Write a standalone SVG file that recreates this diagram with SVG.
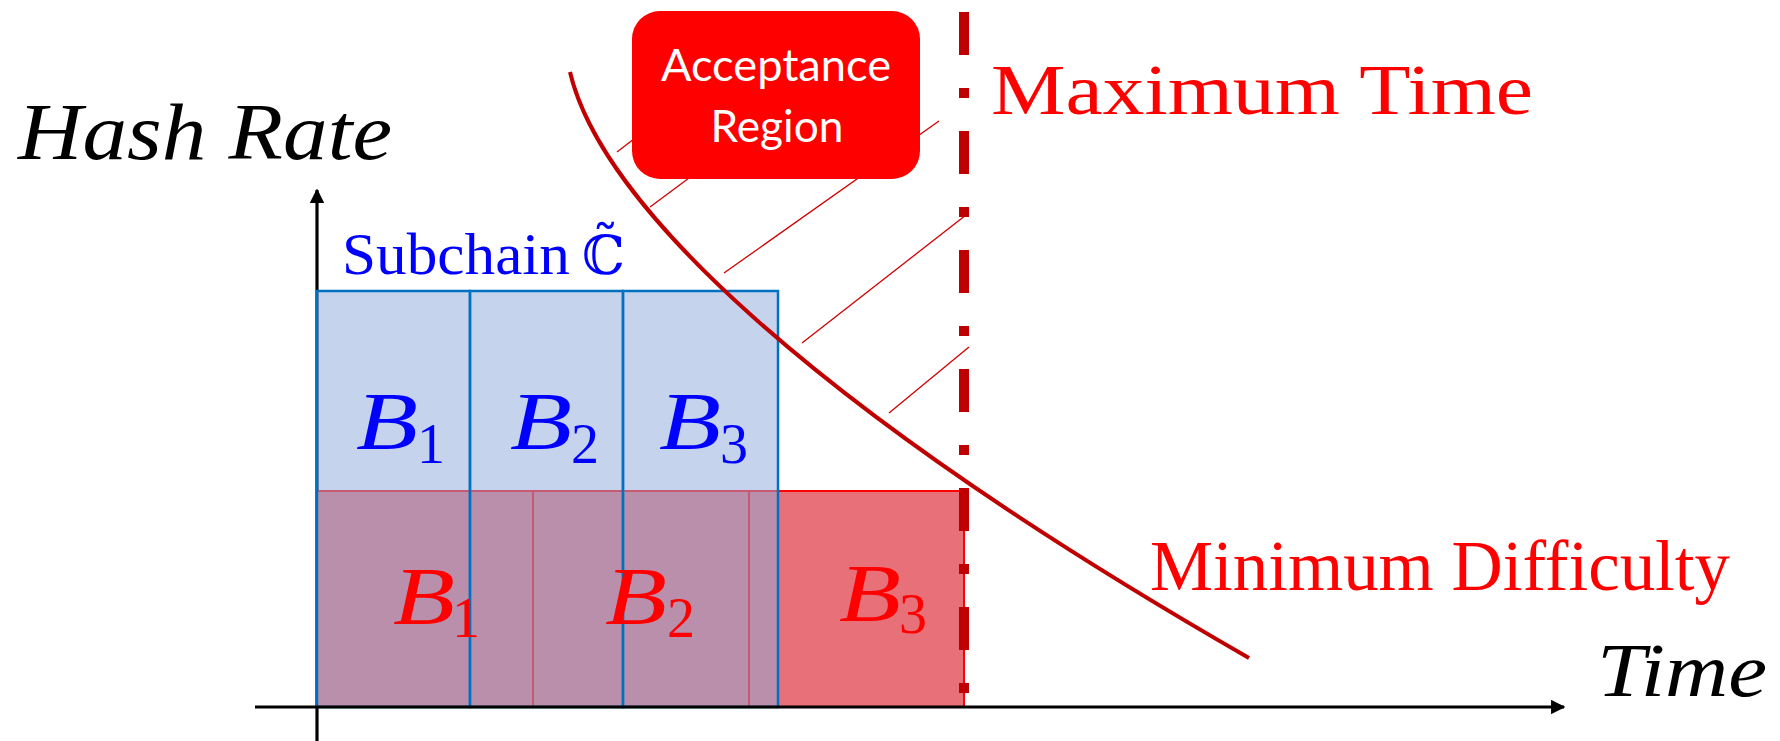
<svg xmlns="http://www.w3.org/2000/svg" width="1780" height="741" viewBox="0 0 1780 741">
<style>
.serif{font-family:"Liberation Serif","DejaVu Serif",serif}
.it{font-family:"Liberation Serif","DejaVu Serif",serif;font-style:italic}
.sub{font-family:"Liberation Serif","DejaVu Serif",serif}
.blue{fill:#0000FF}
.red{fill:#FF0000}
.redblk{fill:#E87078;stroke:#FF0000;stroke-width:2}
.blueblk{fill:rgb(144,172,218);fill-opacity:0.52;stroke:#0070C0;stroke-width:2.5}
.hatch{stroke:#D00000;stroke-width:1.3;fill:none}
.axis{stroke:#000;stroke-width:3.2;fill:none}
</style>
<defs>
<marker id="arr" viewBox="0 0 10 10" refX="9" refY="5" markerWidth="4.5" markerHeight="4.5" orient="auto" markerUnits="strokeWidth">
<path d="M0,0 L10,5 L0,10 Z" fill="#000"/>
</marker>
</defs>
<rect width="1780" height="741" fill="#fff"/>

<!-- y axis -->
<line class="axis" x1="317" y1="741" x2="317" y2="190" marker-end="url(#arr)"/>

<!-- red blocks -->
<g id="red-B1"><rect class="redblk" x="317" y="491" width="216" height="216"/></g>
<g id="red-B2"><rect class="redblk" x="533" y="491" width="216" height="216"/></g>
<g id="red-B3"><rect class="redblk" x="749" y="491" width="215" height="216"/></g>

<!-- blue blocks -->
<g id="blue-B1"><rect class="blueblk" x="317" y="291" width="153" height="416"/></g>
<g id="blue-B2"><rect class="blueblk" x="470" y="291" width="153" height="416"/></g>
<g id="blue-B3"><rect class="blueblk" x="623" y="291" width="155" height="416"/></g>

<!-- blue labels -->
<g id="blue-labels" class="blue">
<text class="it" x="356" y="449" font-size="82" textLength="62" lengthAdjust="spacingAndGlyphs">B</text><text class="sub" x="417" y="463" font-size="56">1</text>
<text class="it" x="510" y="449" font-size="82" textLength="62" lengthAdjust="spacingAndGlyphs">B</text><text class="sub" x="571" y="463" font-size="56">2</text>
<text class="it" x="659" y="449" font-size="82" textLength="62" lengthAdjust="spacingAndGlyphs">B</text><text class="sub" x="720" y="463" font-size="56">3</text>
</g>
<!-- red labels -->
<g id="red-labels" class="red">
<text class="it" x="393" y="624" font-size="82" textLength="62" lengthAdjust="spacingAndGlyphs">B</text><text class="sub" x="452" y="637" font-size="56">1</text>
<text class="it" x="605" y="624" font-size="82" textLength="62" lengthAdjust="spacingAndGlyphs">B</text><text class="sub" x="667" y="637" font-size="56">2</text>
<text class="it" x="839" y="621" font-size="82" textLength="62" lengthAdjust="spacingAndGlyphs">B</text><text class="sub" x="899" y="633" font-size="56">3</text>
</g>

<!-- x axis -->
<line class="axis" x1="255" y1="707" x2="1564" y2="707" marker-end="url(#arr)"/>

<!-- connectors: curve and hatch lines -->
<g id="connectors">
<path d="M570,72 C600,200 800,400 1249,658" fill="none" stroke="#C00000" stroke-width="4"/>
<line class="hatch" x1="617" y1="152" x2="665" y2="115"/>
<line class="hatch" x1="650" y1="207" x2="720" y2="155"/>
<line class="hatch" x1="724" y1="273" x2="939" y2="121"/>
<line class="hatch" x1="802" y1="343" x2="966" y2="215"/>
<line class="hatch" x1="889" y1="413" x2="969" y2="347"/>
</g>

<!-- acceptance region -->
<g id="acceptance">
<rect x="632" y="11" width="288" height="168" rx="28" ry="28" fill="#FF0000"/>
<text x="776" y="81" font-family="Lato,'Liberation Sans',sans-serif" font-size="45" fill="#fff" text-anchor="middle" textLength="230" lengthAdjust="spacingAndGlyphs">Acceptance</text>
<text x="777" y="142" font-family="Lato,'Liberation Sans',sans-serif" font-size="45" fill="#fff" text-anchor="middle" textLength="133" lengthAdjust="spacingAndGlyphs">Region</text>
</g>

<!-- maximum time line -->
<g id="max-time">
<line x1="964" y1="12" x2="964" y2="707" stroke="#C00000" stroke-width="10" stroke-dasharray="43 33 10 33"/>
<text class="serif red" x="991" y="114" font-size="72" textLength="542" lengthAdjust="spacingAndGlyphs">Maximum Time</text>
</g>

<g id="min-difficulty">
<text class="serif red" x="1150" y="590" font-size="72" textLength="580" lengthAdjust="spacingAndGlyphs">Minimum Difficulty</text>
</g>

<g id="subchain" class="blue">
<text class="serif" x="342" y="274" font-size="60" textLength="228" lengthAdjust="spacingAndGlyphs">Subchain</text>
<text x="582" y="274" font-family="'DejaVu Serif',serif" font-size="54">ℂ̃</text>
</g>

<g id="hash-rate">
<text class="it" x="18" y="159" font-size="80" textLength="374" lengthAdjust="spacingAndGlyphs">Hash Rate</text>
</g>
<g id="time">
<text class="it" x="1597" y="696" font-size="76" textLength="170" lengthAdjust="spacingAndGlyphs">Time</text>
</g>
</svg>
